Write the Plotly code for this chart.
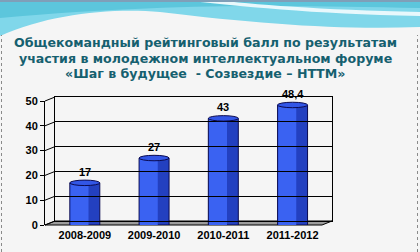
import plotly.graph_objects as go

categories = ["2008-2009", "2009-2010", "2010-2011", "2011-2012"]
values = [17, 27, 43, 48.4]
value_labels = ["17", "27", "43", "48,4"]
y_ticks = [0, 10, 20, 30, 40, 50]
title_lines = [
    "Общекомандный рейтинговый балл по результатам",
    "участия в молодежном интеллектуальном форуме",
    "«Шаг в будущее  - Созвездие – НТТМ»",
]

W, H = 420, 252
L, R, T, B = 45, 88, 97, 27
PW, PH = W - L - R, H - T - B          # 287 x 128
DX, DY = 10, 4                          # 3D depth offset in px
fx = (PW - DX) / PW
fy = (PH - DY) / PH
bw = 0.433
xr = [-0.575, 3.425]


def X(px):
    return (px - L) / PW


def Y(py):
    return (H - B - py) / PH


idx = list(range(len(categories)))
fig = go.Figure()

fig.add_trace(go.Bar(
    x=idx, y=values, width=bw, xaxis="x", yaxis="y",
    marker=dict(color="#2340c0", line=dict(color="#0a0a50", width=1)),
    hoverinfo="skip", showlegend=False,
))
fig.add_trace(go.Bar(
    x=idx, y=values, width=bw * 0.6, offset=-bw / 2 + 0.01, xaxis="x", yaxis="y",
    marker=dict(color="#3a62f2", line=dict(width=0)),
    hoverinfo="skip", showlegend=False,
))
fig.add_trace(go.Scatter(x=[None], y=[None], xaxis="x2", yaxis="y2",
                         showlegend=False, hoverinfo="skip"))

shapes = []
# header wave decoration
shapes.append(dict(type="path", xref="paper", yref="paper", layer="below",
                   path=f"M {X(0)},{Y(0)} L {X(W)},{Y(0)} L {X(W)},{Y(27)} "
                        f"C {X(340)},{Y(30)} {X(260)},{Y(24)} {X(160)},{Y(12)} "
                        f"C {X(110)},{Y(8)} {X(50)},{Y(14)} {X(0)},{Y(36)} Z",
                   fillcolor="#80d7ea", line=dict(width=0)))
shapes.append(dict(type="path", xref="paper", yref="paper", layer="below",
                   path=f"M {X(0)},{Y(0)} L {X(W)},{Y(0)} L {X(W)},{Y(8)} "
                        f"C {X(300)},{Y(6)} {X(180)},{Y(2)} {X(0)},{Y(18)} Z",
                   fillcolor="#5cc6dc", line=dict(width=0)))
shapes.append(dict(type="path", xref="paper", yref="paper", layer="below",
                   path=f"M {X(180)},{Y(0)} C {X(240)},{Y(6)} {X(310)},{Y(14)} {X(W)},{Y(16)} "
                        f"L {X(W)},{Y(12)} C {X(320)},{Y(10)} {X(250)},{Y(4)} {X(215)},{Y(0)} Z",
                   fillcolor="#e8f8fc", line=dict(width=0)))
shapes.append(dict(type="line", xref="paper", yref="paper", layer="below",
                   x0=X(0), x1=X(W), y0=Y(1), y1=Y(1),
                   line=dict(color="#7f9fb8", width=2)))
# dotted side borders
for px_ in (1.5, W - 2.5):
    shapes.append(dict(type="line", xref="paper", yref="paper", layer="below",
                       x0=X(px_), x1=X(px_), y0=Y(H), y1=Y(35),
                       line=dict(color="#8a8a8a", width=1, dash="dot")))
# floor
shapes.append(dict(type="path", xref="paper", yref="paper", layer="below",
                   path=f"M 0,0 L {fx},0 L 1,{DY/PH} L {DX/PW},{DY/PH} Z",
                   fillcolor="#9c9c9c", line=dict(color="#000000", width=1)))
# tick connectors from front axis to wall
for t in y_ticks:
    yf = t / 50 * fy
    shapes.append(dict(type="line", xref="paper", yref="paper", layer="below",
                       x0=0, x1=DX / PW, y0=yf, y1=yf + DY / PH,
                       line=dict(color="#000000", width=1)))
# cylinder tops
for i, v in zip(idx, values):
    shapes.append(dict(type="circle", xref="x", yref="y", layer="above",
                       x0=i - bw / 2, x1=i + bw / 2, y0=v - 1.1, y1=v + 1.1,
                       fillcolor="#3256e6", line=dict(color="#0a0a50", width=1)))

annotations = []
title_y = [42, 58, 73]
for txt, py in zip(title_lines, title_y):
    annotations.append(dict(text=f"<b>{txt}</b>", xref="paper", yref="paper",
                            x=X(205), y=Y(py),
                            xanchor="center", yanchor="middle", showarrow=False,
                            font=dict(family="DejaVu Sans", size=12.6, color="#15606f")))
for i, v, lab in zip(idx, values, value_labels):
    annotations.append(dict(text=f"<b>{lab}</b>", x=i, y=v, xref="x", yref="y",
                            yshift=11, showarrow=False, yanchor="middle",
                            font=dict(family="Liberation Sans", size=11, color="#000000")))

fig.update_layout(
    width=W, height=H,
    margin=dict(l=L, r=R, t=T, b=B),
    paper_bgcolor="#f5f5f5",
    plot_bgcolor="rgba(0,0,0,0)",
    barmode="overlay",
    showlegend=False,
    shapes=shapes,
    annotations=annotations,
    xaxis=dict(domain=[0, fx], range=xr, tickvals=idx,
               ticktext=[f"<b>{c}</b>" for c in categories],
               tickfont=dict(family="Liberation Sans", size=11, color="#000000"),
               ticklabelstandoff=2,
               showgrid=False, zeroline=False, showline=False, ticks="", anchor="y"),
    yaxis=dict(domain=[0, fy], range=[0, 50], tickvals=y_ticks,
               ticktext=[f"<b>{t}</b>" for t in y_ticks],
               tickfont=dict(family="Liberation Sans", size=11, color="#000000"),
               showgrid=False, zeroline=False, showline=True, linecolor="#000000",
               linewidth=1, ticks="outside", ticklen=4, tickcolor="#000000", anchor="x"),
    xaxis2=dict(domain=[DX / PW, 1], range=xr, showticklabels=False, showgrid=False,
                zeroline=False, showline=True, mirror=True, linecolor="#000000",
                ticks="", anchor="y2"),
    yaxis2=dict(domain=[DY / PH, 1], range=[0, 50], tickvals=y_ticks, showticklabels=False,
                showgrid=True, gridcolor="#000000", gridwidth=1, zeroline=False,
                showline=True, mirror=True, linecolor="#000000", ticks="", anchor="x2"),
)

fig.write_html("out.html")
